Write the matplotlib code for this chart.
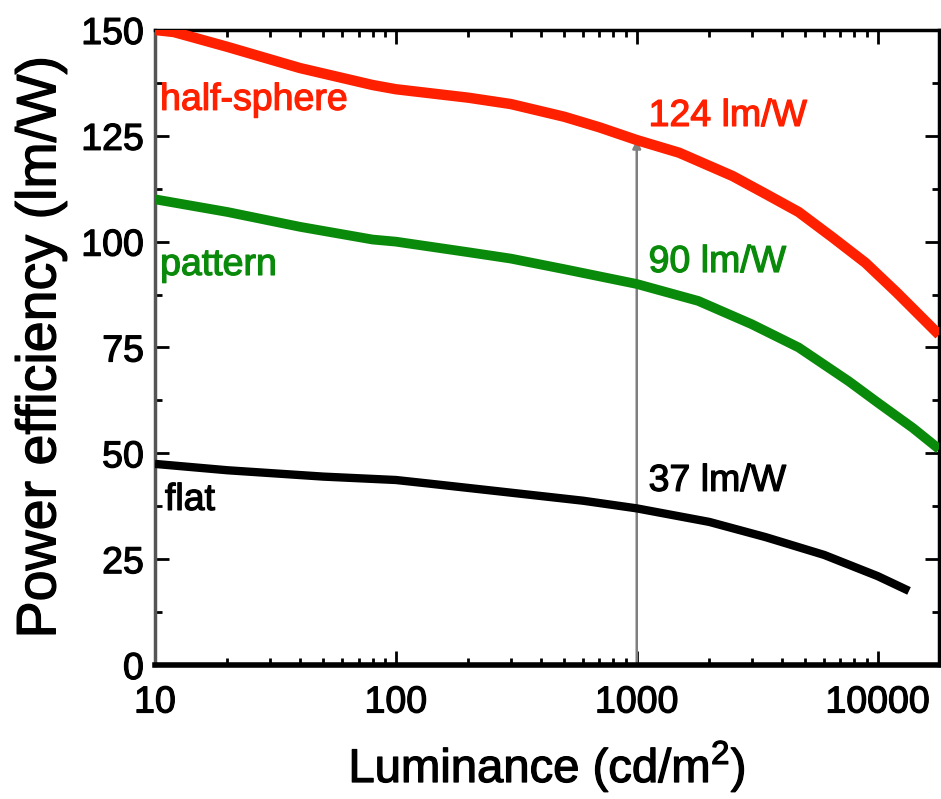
import matplotlib
matplotlib.use("Agg")
import matplotlib.pyplot as plt
import matplotlib.patheffects as pe
from matplotlib.ticker import FixedLocator, NullFormatter, MultipleLocator

plt.rcParams['font.family'] = ['Liberation Sans', 'DejaVu Sans']

# half-sphere (red)
hs_x = [10, 12, 20, 40, 80, 100, 200, 300, 500, 700, 1000, 1500, 2500, 3500, 4700, 6500, 8900, 12000, 18000]
hs_y = [150, 149.5, 146, 141, 137, 136, 134, 132.5, 129.5, 127, 124, 121, 115.5, 111, 107, 101, 95, 88, 78]
# pattern (green)
pt_x = [10, 20, 40, 80, 100, 200, 300, 500, 1000, 1800, 3000, 4700, 7600, 10000, 14000, 18000]
pt_y = [110, 107, 103.5, 100.5, 100, 97.5, 96, 93.5, 90, 86, 80.5, 75, 67, 62, 56, 51]
# flat (black)
fl_x = [10, 20, 50, 100, 140, 270, 600, 1000, 2000, 3430, 6000, 10000, 13500]
fl_y = [47.5, 46, 44.5, 43.7, 42.8, 41, 38.8, 37, 33.8, 30.2, 26, 21, 17.5]

x_ticks = [10, 100, 1000, 10000]
x_tick_labels = ["10", "100", "1000", "10000"]
y_ticks = [0, 25, 50, 75, 100, 125, 150]

marker_x = 1000
marker_top = 124

def heavy(c):
    return [pe.withStroke(linewidth=0.9, foreground=c)]

fig = plt.figure(figsize=(9.41, 7.99), dpi=100)
ax = fig.add_axes([0.1647, 0.1677, 0.8333, 0.7948])

ax.plot(hs_x, hs_y, color='#ff2000', lw=7.5, solid_capstyle='butt', zorder=3)
ax.plot(pt_x, pt_y, color='#0a8a0a', lw=7, solid_capstyle='butt', zorder=3)
ax.plot(fl_x, fl_y, color='black', lw=6, solid_capstyle='butt', zorder=3)

ax.annotate('', xy=(marker_x, marker_top), xytext=(marker_x, 0),
            arrowprops=dict(arrowstyle='-|>', color='#7f7f7f', lw=1.8,
                            mutation_scale=12, shrinkA=0, shrinkB=0), zorder=2)

ax.set_xscale('log')
ax.set_xlim(10, 18000)
ax.set_ylim(0, 150)
ax.xaxis.set_major_locator(FixedLocator(x_ticks))
ax.set_xticks(x_ticks)
ax.set_xticklabels(x_tick_labels)
ax.xaxis.set_minor_formatter(NullFormatter())
ax.set_yticks(y_ticks)
ax.yaxis.set_minor_locator(MultipleLocator(12.5))

ax.tick_params(which='both', direction='in', top=True, right=True, width=2, colors='black')
ax.tick_params(which='major', length=10, labelsize=27)
ax.tick_params(axis='x', which='major', pad=14)
ax.tick_params(axis='y', which='major', pad=8)
ax.tick_params(which='minor', length=5)
for lab in ax.get_xticklabels() + ax.get_yticklabels():
    lab.set_path_effects(heavy('black'))
for s in ax.spines.values():
    s.set_linewidth(2.5)
ax.spines['left'].set_color('#555555')
ax.spines['bottom'].set_linewidth(4)

ax.set_xlabel('Luminance (cd/m$^\\mathregular{2}$)', fontsize=34, labelpad=14,
              path_effects=heavy('black'))
ax.set_ylabel('Power efficiency (lm/W)', fontsize=40, labelpad=10,
              path_effects=heavy('black'))

ax.text(10.5, 133.5, 'half-sphere', color='#ff2000', fontsize=27, va='center', ha='left',
        path_effects=heavy('#ff2000'))
ax.text(10.5, 94.5, 'pattern', color='#0a8a0a', fontsize=27, va='center', ha='left',
        path_effects=heavy('#0a8a0a'))
ax.text(11.0, 39, 'flat', color='black', fontsize=27, va='center', ha='left',
        path_effects=heavy('black'))
ax.text(1120, 129.7, '124 lm/W', color='#ff2000', fontsize=27, va='center', ha='left',
        path_effects=heavy('#ff2000'))
ax.text(1120, 95.2, '90 lm/W', color='#0a8a0a', fontsize=27, va='center', ha='left',
        path_effects=heavy('#0a8a0a'))
ax.text(1120, 43.5, '37 lm/W', color='black', fontsize=27, va='center', ha='left',
        path_effects=heavy('black'))

fig.savefig('out.png', dpi=100)
